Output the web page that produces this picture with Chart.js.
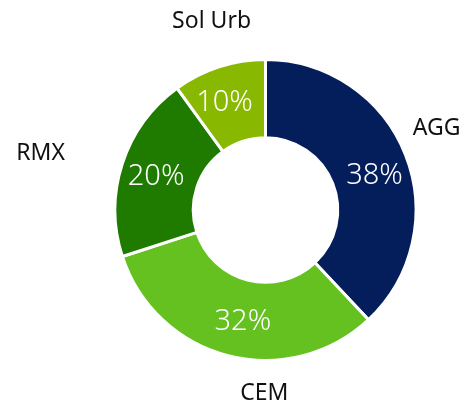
<!DOCTYPE html>
<html>
<head>
<meta charset="utf-8">
<script src="https://cdn.jsdelivr.net/npm/chart.js@4"></script>
<style>
  html, body { margin: 0; padding: 0; background: #fff; }
  #wrap { width: 472px; height: 411px; position: relative; }
</style>
</head>
<body>
<div id="wrap"><canvas id="mixChart"></canvas></div>
<script>
// --- Data ---
const categories = ['AGG', 'CEM', 'RMX', 'Sol Urb'];
const shares = [38, 32, 20, 10];
const sliceColors = ['#041e5c', '#64c11f', '#1f7a00', '#88b900'];

// label placement tweaks (degrees off the slice middle, radius factor)
const labelAngleShift = [-4, -14, -4, 2];
const labelRadiusFactor = [1.26, 1.22, 1.54, 1.3];
const pctAngleShift = [4, -3, -1, -3];

const FONT = '"Noto Sans", "Open Sans", sans-serif';

// --- Plugin: percentages inside, category names outside ---
const sliceLabels = {
    id: 'sliceLabels',
    afterDatasetsDraw(chart) {
        const ctx = chart.ctx;
        const meta = chart.getDatasetMeta(0);
        const total = shares.reduce((a, b) => a + b, 0);
        ctx.save();
        ctx.textAlign = 'center';
        ctx.textBaseline = 'middle';
        meta.data.forEach((arc, i) => {
            const p = arc.getProps(['x', 'y', 'startAngle', 'endAngle', 'innerRadius', 'outerRadius'], true);
            const mid = (p.startAngle + p.endAngle) / 2;
            const m = mid + pctAngleShift[i] * Math.PI / 180;
            const rIn = (p.innerRadius + p.outerRadius) / 2 + 3;
            ctx.fillStyle = '#ffffff';
            ctx.font = '300 29px ' + FONT;
            ctx.fillText(Math.round(shares[i] / total * 100) + '%', p.x + Math.cos(m) * rIn, p.y + Math.sin(m) * rIn);

            const a = mid + labelAngleShift[i] * Math.PI / 180;
            const rOut = p.outerRadius * labelRadiusFactor[i];
            ctx.fillStyle = '#111111';
            ctx.font = '400 23px ' + FONT;
            ctx.fillText(categories[i], p.x + Math.cos(a) * rOut, p.y + Math.sin(a) * rOut);
        });
        ctx.restore();
    }
};

document.addEventListener('DOMContentLoaded', () => {
    const el = document.getElementById('mixChart');
    new Chart(el.getContext('2d'), {
        type: 'doughnut',
        data: {
            labels: categories,
            datasets: [{
                data: shares,
                backgroundColor: sliceColors,
                borderColor: '#ffffff',
                borderWidth: 3
            }]
        },
        options: {
            responsive: true,
            maintainAspectRatio: false,
            animation: false,
            cutout: '48%',
            layout: { padding: { top: 58, bottom: 49, left: 113, right: 54 } },
            plugins: {
                legend: { display: false },
                tooltip: { enabled: false }
            }
        },
        plugins: [sliceLabels]
    });
});
</script>
</body>
</html>
